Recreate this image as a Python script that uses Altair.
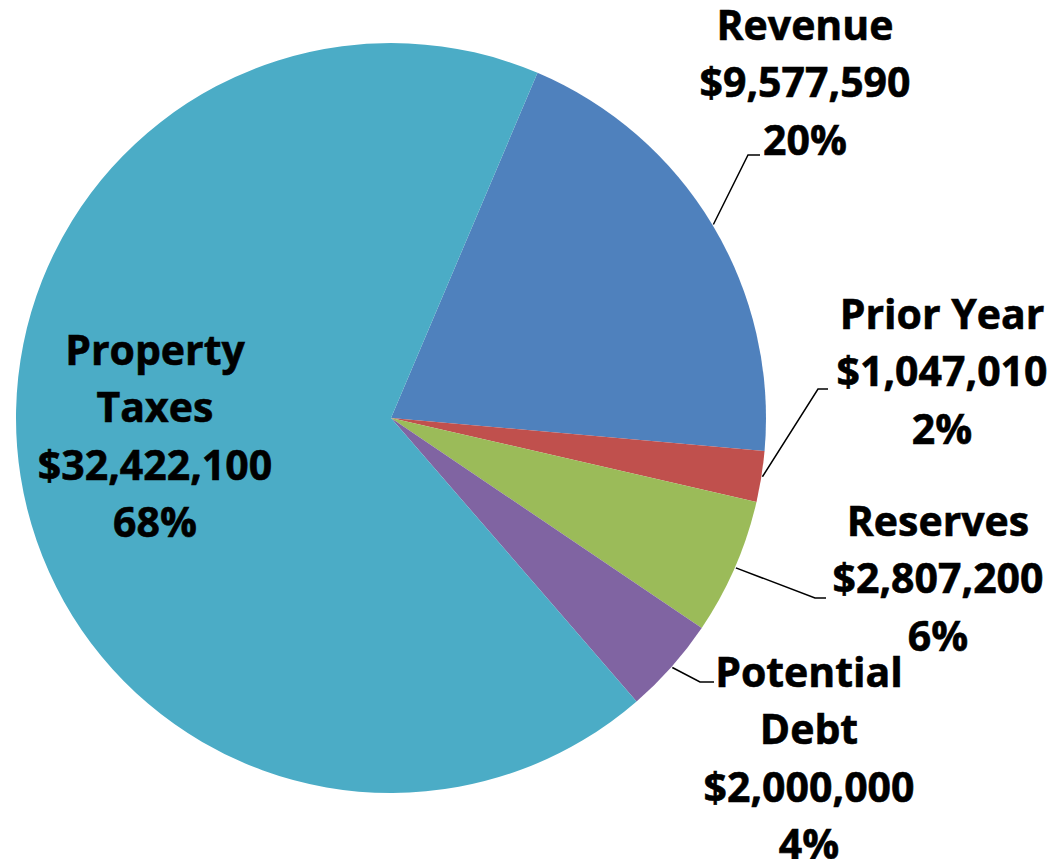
import math
import altair as alt
import pandas as pd

# ---- data ----
categories = ["Revenue", "Prior Year", "Reserves", "Potential Debt", "Property Taxes"]
label_names = ["Revenue", "Prior Year", "Reserves", "Potential\nDebt", "Property\nTaxes"]
values = [9577590, 1047010, 2807200, 2000000, 32422100]
colors = ["#4F81BD", "#C0504D", "#9BBB59", "#8064A2", "#4BACC6"]

# ---- layout (chart pixel coordinates, styling only) ----
CX, CY, R = 383, 410, 375
START = math.radians(23)
FONT = "Open Sans"
FS = 41
LH = 57.5
label_center = {  # block centre of each label
    "Revenue": (797, 77),
    "Prior Year": (934, 366),
    "Reserves": (930, 573),
    "Potential Debt": (801, 753),
    "Property Taxes": (147, 431),
}
leader = {  # elbow point, end point of each leader line (None = no line)
    "Revenue": ((740, 147), (752, 147)),
    "Prior Year": ((810, 381), (820, 381)),
    "Reserves": ((807, 590), (818, 590)),
    "Potential Debt": ((692, 674), (706, 674)),
    "Property Taxes": None,
}

total = sum(values)
pie = pd.DataFrame({"cat": categories, "value": values, "order": list(range(len(values)))})

# text rows
rows = []
line_rows = []
cum = 0.0
for cat, name, v in zip(categories, label_names, values):
    frac = v / total
    mid = START + 2 * math.pi * (cum + frac / 2)
    cum += frac
    lines = name.split("\n") + ["${:,}".format(v), "{:.0f}%".format(frac * 100)]
    cx, cy = label_center[cat]
    n = len(lines)
    for i, t in enumerate(lines):
        rows.append({"cat": cat, "t": t, "x": cx, "y": cy + (i - (n - 1) / 2) * LH})
    if leader[cat] is not None:
        sx = CX + (R + 1) * math.sin(mid)
        sy = CY - (R + 1) * math.cos(mid)
        (ex, ey), (fx, fy) = leader[cat]
        for k, (px, py) in enumerate([(sx, sy), (ex, ey), (fx, fy)]):
            line_rows.append({"cat": cat, "k": k, "x": px, "y": py})

txt = pd.DataFrame(rows)
lns = pd.DataFrame(line_rows)

arc = alt.Chart(pie).mark_arc(outerRadius=R).encode(
    theta=alt.Theta("value:Q", stack=True,
                    scale=alt.Scale(range=[START, START + 2 * math.pi])),
    color=alt.Color("cat:N", scale=alt.Scale(domain=categories, range=colors), legend=None),
    order=alt.Order("order:Q"),
    x=alt.value(CX),
    y=alt.value(CY),
)

lead = alt.Chart(lns).mark_line(color="black", strokeWidth=1.5).encode(
    x=alt.X("x:Q", scale=None, axis=None),
    y=alt.Y("y:Q", scale=None, axis=None),
    detail="cat:N",
    order="k:Q",
)

text = alt.Chart(txt).mark_text(
    font=FONT, fontSize=FS, fontWeight="bold", color="black",
    stroke="black", strokeWidth=0.6,
    align="center", baseline="middle",
).encode(
    x=alt.X("x:Q", scale=None, axis=None),
    y=alt.Y("y:Q", scale=None, axis=None),
    text="t:N",
)

chart = alt.layer(arc, lead, text).properties(
    width=1042, height=851, padding=0, autosize=alt.AutoSizeParams(type="none")
).configure_view(stroke=None)

chart.save("out.html", embed_options={"renderer": "svg", "actions": False})
